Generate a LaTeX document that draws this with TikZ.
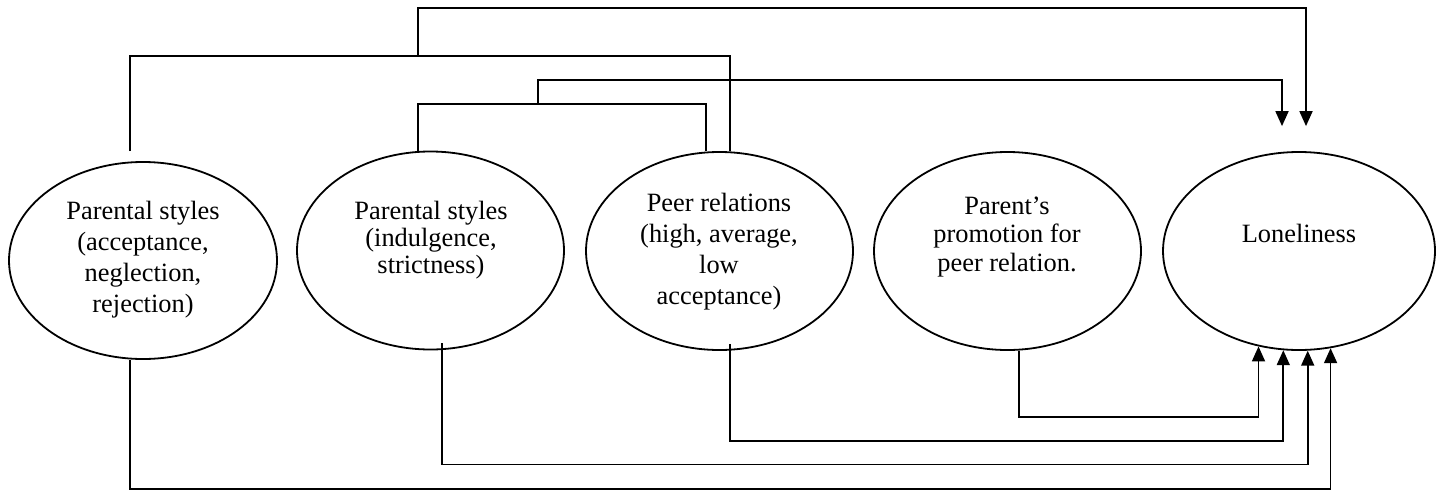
\documentclass[tikz,border=0pt]{standalone}
\usepackage{fontspec}
\setmainfont{Liberation Serif}
\usetikzlibrary{shapes.geometric,arrows.meta,calc}
\tikzset{
  ell/.style={ellipse,draw,line width=0.9pt,minimum width=133.5pt,minimum height=99pt,inner sep=0pt},
  txt/.style={align=center,inner sep=0pt,font=\fontsize{13.2}{15.5}\selectfont},
  conn/.style={line width=0.9pt},
  arr/.style={conn,-{Triangle[length=7.5pt,width=6.5pt]}}
}
\begin{document}
\begin{tikzpicture}[x=0.5pt,y=-0.5pt]
\useasboundingbox (0,0) rectangle (1446,493);
% the five ellipses
\node[ell,minimum width=134pt,minimum height=98.5pt] (ps1) at (143,260.5) {};
\node[ell] (ps2) at (430.5,250.5) {};
\node[ell] (peer) at (719.5,251) {};
\node[ell] (promo) at (1007.5,251) {};
\node[ell,minimum width=136pt] (lone) at (1299,251) {};
% their texts
\node[txt] (ps1t) at (143,260) {Parental styles\\(acceptance,\\neglection,\\rejection)};
\node[txt,font=\fontsize{13.2}{13.4}\selectfont] (ps2t) at (431,240) {Parental styles\\(indulgence,\\strictness)};
\node[txt] (peert) at (719,252) {Peer relations\\(high, average,\\low\\acceptance)};
\node[txt,font=\fontsize{13.2}{14.3}\selectfont] (promot) at (1007,237) {Parent’s\\promotion for\\peer relation.};
\node[txt] (lonet) at (1299,233) {Loneliness};
% junctions and free ends above Loneliness
\coordinate (top1) at (418,56);
\coordinate (top2) at (538,104);
\coordinate (in1) at ($(lone.north)+(7,-25)$);
\coordinate (in2) at ($(lone.north)+(-17,-25)$);
% top connectors
\draw[conn] ($(ps1.north)+(-13,-10)$) |- (top1) -| ($(peer.north)+(10.5,0)$);
\draw[arr] (top1) -- ++(0,-48) -| (in1);
\draw[conn] ($(ps2.north)+(-12.5,0)$) |- (top2) -| ($(peer.north)+(-13.5,0)$);
\draw[arr] (top2) -- ++(0,-24) -| (in2);
% bottom connectors
\draw[arr] ($(promo.south)+(11.5,0)$) -- ++(0,66) -| (lone.247);
\draw[arr] ($(peer.south)+(10.5,-7)$) -- ++(0,97) -| (lone.261);
\draw[arr] ($(ps2.south)+(11.5,-7)$) -- ++(0,121) -| (lone.275);
\draw[arr] ($(ps1.south)+(-13,0)$) -- ++(0,129) -| (lone.288);
\end{tikzpicture}
\end{document}
